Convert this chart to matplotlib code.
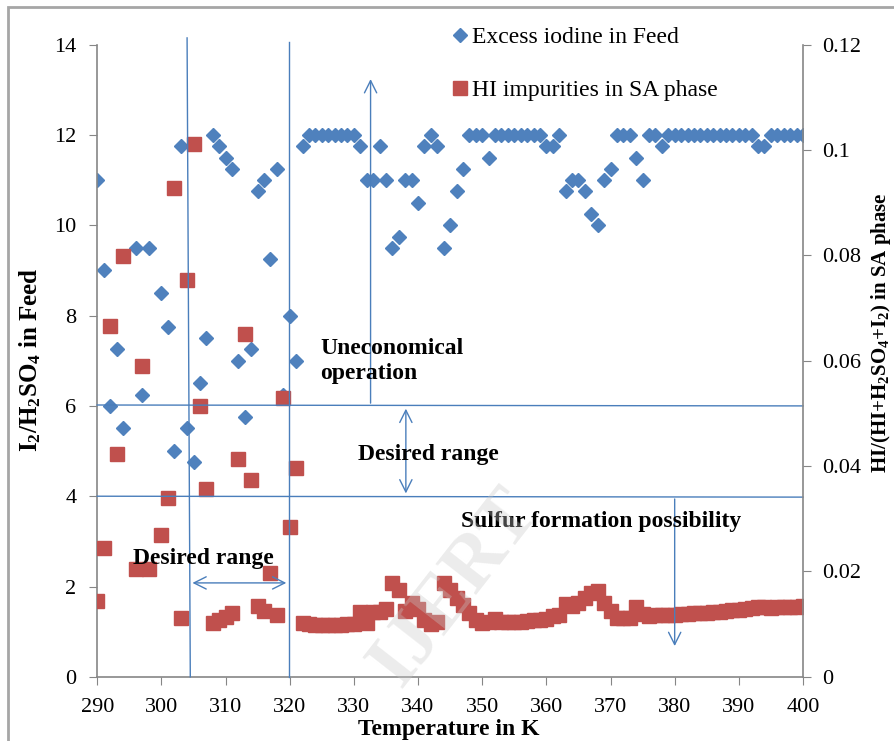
import matplotlib
matplotlib.use("Agg")
import matplotlib.pyplot as plt
from matplotlib.lines import Line2D
from matplotlib.patches import Rectangle

plt.rcParams['font.family'] = ['Liberation Serif', 'DejaVu Serif']
plt.rcParams['mathtext.fontset'] = 'custom'
plt.rcParams['mathtext.rm'] = 'Liberation Serif'
plt.rcParams['mathtext.bf'] = 'Liberation Serif:bold'
plt.rcParams['mathtext.it'] = 'Liberation Serif:italic'

# temperature points (K), same for both series
temps = [290, 291, 292, 293, 294, 296, 297, 298] + list(range(300, 401))

# I2/H2SO4 in feed (left axis)
excess_iodine = [
    11.0, 9.0, 6.0, 7.25, 5.5, 9.5, 6.25, 9.5,                 # 290-298
    8.5, 7.75, 5.0, 11.75, 5.5, 4.75, 6.5, 7.5, 12.0, 11.75,    # 300-309
    11.5, 11.25, 7.0, 5.75, 7.25, 10.75, 11.0, 9.25, 11.25, 6.25,  # 310-319
    8.0, 7.0, 11.75, 12.0, 12.0, 12.0, 12.0, 12.0, 12.0, 12.0,  # 320-329
    12.0, 11.75, 11.0, 11.0, 11.75, 11.0, 9.5, 9.75, 11.0, 11.0,  # 330-339
    10.5, 11.75, 12.0, 11.75, 9.5, 10.0, 10.75, 11.25, 12.0, 12.0,  # 340-349
    12.0, 11.5, 12.0, 12.0, 12.0, 12.0, 12.0, 12.0, 12.0, 12.0,  # 350-359
    11.75, 11.75, 12.0, 10.75, 11.0, 11.0, 10.75, 10.25, 10.0, 11.0,  # 360-369
    11.25, 12.0, 12.0, 12.0, 11.5, 11.0, 12.0, 12.0, 11.75, 12.0,  # 370-379
    12.0, 12.0, 12.0, 12.0, 12.0, 12.0, 12.0, 12.0, 12.0, 12.0,  # 380-389
    12.0, 12.0, 12.0, 11.75, 11.75, 12.0, 12.0, 12.0, 12.0, 12.0,  # 390-399
    12.0,                                                        # 400
]

# HI/(HI+H2SO4+I2) in SA phase (right axis)
hi_impurity = [
    0.0143, 0.0245, 0.0666, 0.0423, 0.0798, 0.0204, 0.0590, 0.0204,  # 290-298
    0.0269, 0.0340, 0.0928, 0.0111, 0.0753, 0.1012, 0.0515, 0.0357, 0.0102, 0.0108,  # 300-309
    0.0114, 0.0121, 0.0413, 0.0651, 0.0374, 0.0134, 0.0125, 0.0198, 0.0117, 0.0530,  # 310-319
    0.0284, 0.0396, 0.0102, 0.0100, 0.0099, 0.0099, 0.0099, 0.0099, 0.0099, 0.0100,  # 320-329
    0.0101, 0.0124, 0.0103, 0.0124, 0.0124, 0.0128, 0.0178, 0.0165, 0.0125, 0.0140,  # 330-339
    0.0128, 0.0108, 0.0100, 0.0104, 0.0178, 0.0165, 0.0150, 0.0136, 0.0122, 0.0108,  # 340-349
    0.0103, 0.0104, 0.0110, 0.0104, 0.0104, 0.0105, 0.0105, 0.0106, 0.0107, 0.0108,  # 350-359
    0.0110, 0.0116, 0.0118, 0.0138, 0.0135, 0.0140, 0.0150, 0.0160, 0.0162, 0.0140,  # 360-369
    0.0125, 0.0112, 0.0111, 0.0112, 0.0132, 0.0120, 0.0116, 0.0117, 0.0117, 0.0117,  # 370-379
    0.0118, 0.0119, 0.0120, 0.0121, 0.0121, 0.0122, 0.0123, 0.0124, 0.0125, 0.0126,  # 380-389
    0.0127, 0.0128, 0.0130, 0.0132, 0.0132, 0.0131, 0.0132, 0.0132, 0.0133, 0.0133,  # 390-399
    0.0134,                                                                          # 400
]

x_ticks = list(range(290, 401, 10))
left_ticks = list(range(0, 15, 2))
right_ticks = [0, 0.02, 0.04, 0.06, 0.08, 0.1, 0.12]
right_tick_labels = ['0', '0.02', '0.04', '0.06', '0.08', '0.1', '0.12']

blue = '#4F81BD'
red = '#C0504D'
line_col = '#4A7EBB'
spine_col = '#868686'

fig = plt.figure(figsize=(8.94, 7.41), dpi=100)
ax = fig.add_axes([0.1088, 0.0866, 0.7894, 0.8531])
ax2 = ax.twinx()

ax.plot(temps, excess_iodine, linestyle='none', marker='D', ms=7.0,
        color=blue, mec=blue)
ax2.plot(temps, hi_impurity, linestyle='none', marker='s', ms=10.2,
         color=red, mec=red)

ax.set_xlim(290, 400)
ax.set_ylim(0, 14)
ax2.set_ylim(0, 0.12)
ax.set_xticks(x_ticks)
ax.set_yticks(left_ticks)
ax2.set_yticks(right_ticks)
ax2.set_yticklabels(right_tick_labels)

for a in (ax, ax2):
    a.spines['top'].set_visible(False)
    for s in a.spines.values():
        s.set_color(spine_col)
        s.set_linewidth(1.2)
ax.spines['right'].set_visible(False)
ax2.spines['left'].set_visible(False)
ax2.spines['bottom'].set_visible(False)

ax.tick_params(axis='x', direction='out', length=6, color=spine_col,
               labelsize=16, pad=9)
ax.tick_params(axis='y', direction='out', length=6, color=spine_col,
               labelsize=16, pad=9)
ax2.tick_params(axis='y', direction='out', length=6, color=spine_col,
                labelsize=16, pad=8)

# annotation lines and arrows (left axis data coords)
tr = ax.transData
kw = dict(color=line_col, lw=1.0, clip_on=False, transform=tr)
ax2.plot([304.0, 304.5], [14.15, 0], **kw)
ax2.plot([319.9, 319.9], [14.05, 0], **kw)
ax2.plot([290, 400], [6.02, 6.0], **kw)
ax2.plot([290, 400], [4.0, 3.98], **kw)

arr = dict(arrowstyle='->', color=line_col, lw=1.0, mutation_scale=22)
darr = dict(arrowstyle='<->', color=line_col, lw=1.0, mutation_scale=22)
ax2.annotate('', xy=(332.6, 13.3), xytext=(332.6, 6.0),
             xycoords=tr, textcoords=tr, arrowprops=arr)
ax2.annotate('', xy=(338.1, 4.0), xytext=(338.1, 6.0),
             xycoords=tr, textcoords=tr, arrowprops=darr)
ax2.annotate('', xy=(380.0, 0.62), xytext=(380.0, 4.0),
             xycoords=tr, textcoords=tr, arrowprops=arr)
ax2.annotate('', xy=(304.4, 2.08), xytext=(319.9, 2.08),
             xycoords=tr, textcoords=tr, arrowprops=darr)

tkw = dict(transform=tr, fontsize=17, fontweight='bold', color='black')
ax2.text(324.8, 7.0, 'Uneconomical\noperation', ha='left', va='center',
         linespacing=1.25, **tkw)
ax2.text(341.6, 4.92, 'Desired range', ha='center', va='center', **tkw)
ax2.text(368.5, 3.45, 'Sulfur formation possibility', ha='center',
         va='center', **tkw)
ax2.text(306.5, 2.63, 'Desired range', ha='center', va='center', **tkw)

# axis titles
fig.text(449 / 894, 1 - 729 / 741, 'Temperature in K', ha='center',
         va='center', fontsize=17, fontweight='bold')
fig.text(30 / 894, 1 - 360 / 741,
         r'I$_\mathbf{2}$/H$_\mathbf{2}$SO$_\mathbf{4}$ in Feed',
         rotation=90, ha='center', va='center', fontsize=18,
         fontweight='bold')
fig.text(881 / 894, 1 - 333 / 741,
         r'HI/(HI+H$_\mathbf{2}$SO$_\mathbf{4}$+I$_\mathbf{2}$) in SA phase',
         rotation=90, ha='center', va='center', fontsize=15,
         fontweight='bold')

# legend
handles = [
    Line2D([], [], linestyle='none', marker='D', ms=7.0, color=blue),
    Line2D([], [], linestyle='none', marker='s', ms=9.5, color=red),
]
fig.legend(handles, ['Excess iodine in Feed', 'HI impurities in SA phase'],
           loc='upper left', bbox_to_anchor=(440 / 894, 1 - 15 / 741),
           frameon=False, fontsize=17, handlelength=0.7, handletextpad=0.15,
           labelspacing=1.32, borderpad=0)

# faint watermark
fig.text(455 / 894, 1 - 588 / 741, 'IJERT', rotation=52, ha='center',
         va='center', fontsize=56, color='#c8c8c8', alpha=0.35,
         fontweight='bold', zorder=20)

# outer frame of the original screenshot
fig.add_artist(Rectangle((8 / 894, -0.1), 2.0, 0.1 + 734 / 741,
                         transform=fig.transFigure, fill=False,
                         edgecolor='#a6a6a6', lw=2))

fig.savefig('out.png', dpi=100)
